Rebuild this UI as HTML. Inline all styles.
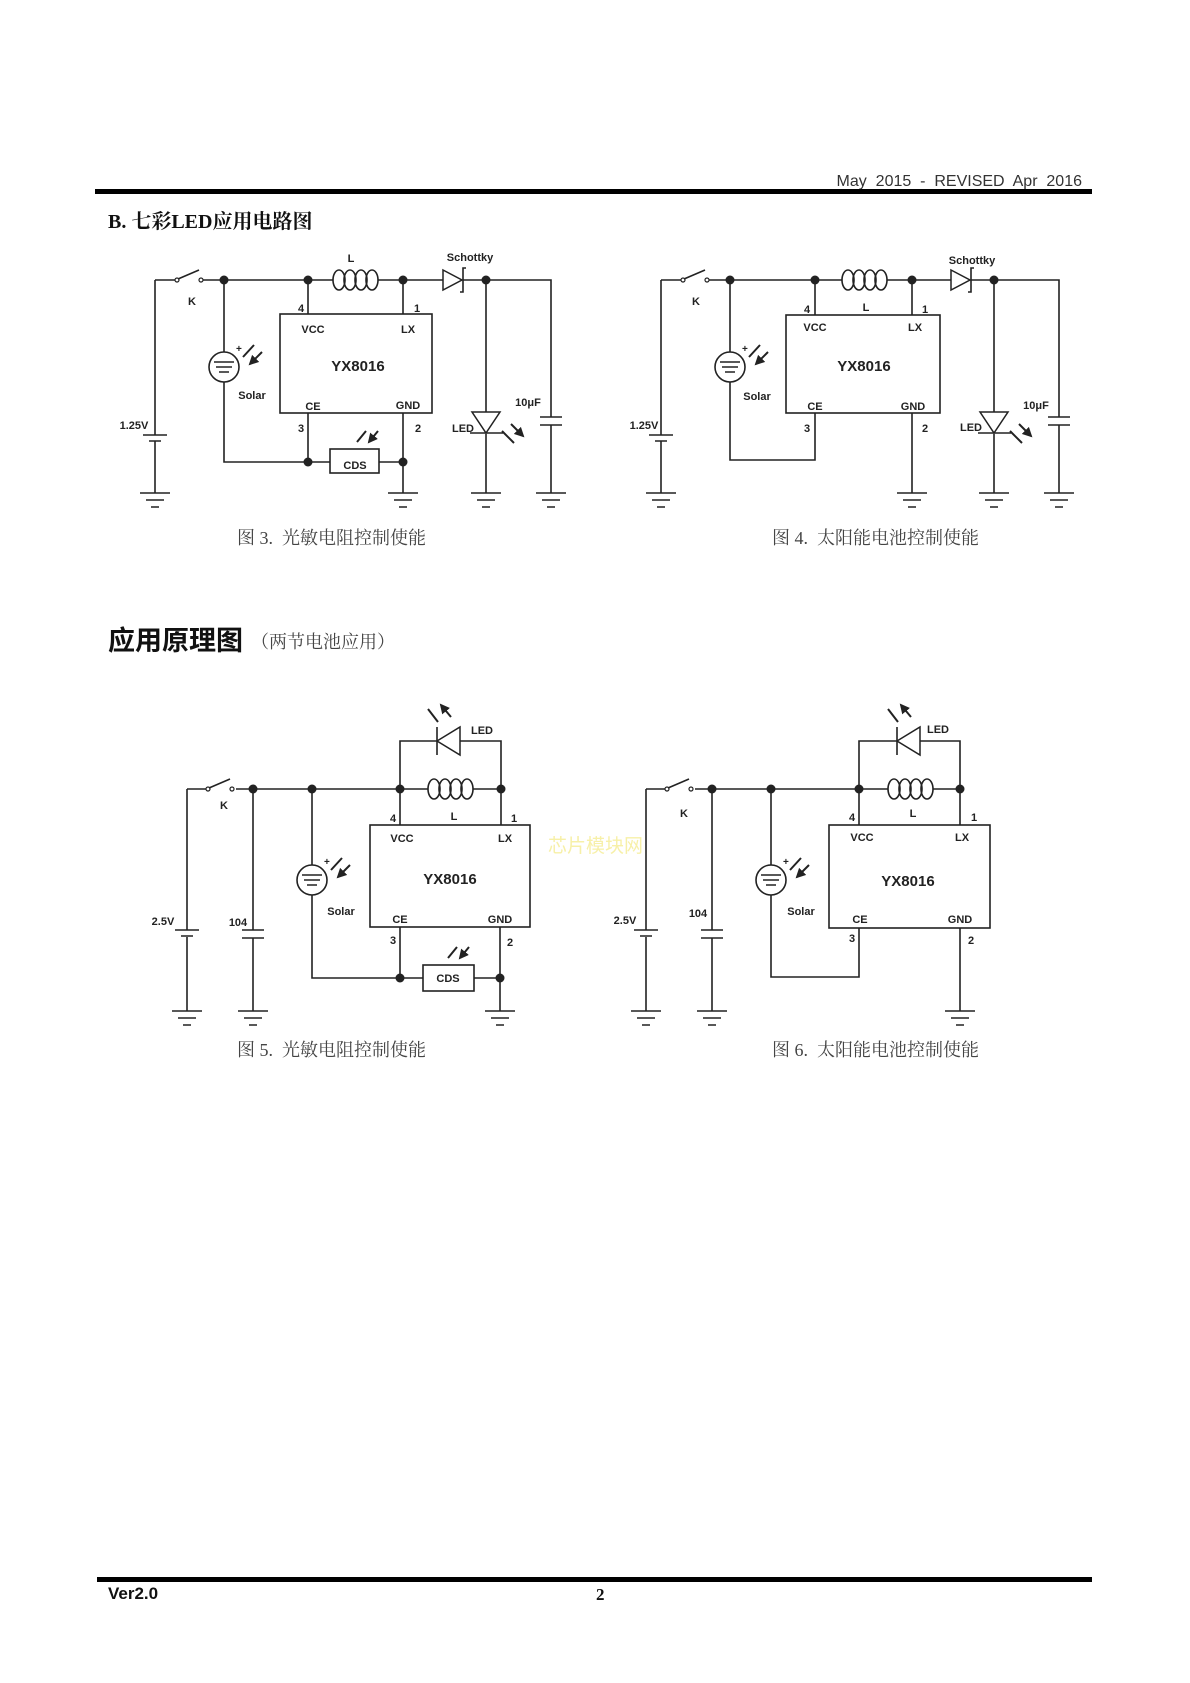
<!DOCTYPE html>
<html><head><meta charset="utf-8"><style>
html,body{margin:0;padding:0;background:#fff}
svg{display:block}
.w{stroke:#222;stroke-width:1.6;fill:none}
.a{stroke:#222;stroke-width:2;fill:none}
.b{font-family:"Liberation Sans",sans-serif;font-weight:bold;font-size:11px;fill:#222}
.ic{font-family:"Liberation Sans",sans-serif;font-weight:bold;font-size:15px;fill:#222}
.cap{font-family:"Liberation Serif","Noto Serif CJK SC",serif;font-size:18px;fill:#444}
</style></head><body>
<svg width="1190" height="1683" viewBox="0 0 1190 1683" xmlns="http://www.w3.org/2000/svg">
<defs>
<marker id="ah" viewBox="0 0 10 10" refX="8" refY="5" markerWidth="5" markerHeight="5" orient="auto"><path d="M0,0 L10,5 L0,10 z" fill="#222"/></marker>
<g id="gnd"><path class="w" d="M-15,0 H15 M-9,7 H9 M-4,14 H4"/></g>
<g id="coil"><ellipse class="w" cx="6" cy="0" rx="6" ry="10"/><ellipse class="w" cx="17" cy="0" rx="6" ry="10"/><ellipse class="w" cx="28" cy="0" rx="6" ry="10"/><ellipse class="w" cx="39" cy="0" rx="6" ry="10"/></g>
<g id="sw"><circle cx="0" cy="0" r="2" fill="#fff" stroke="#222" stroke-width="1.2"/><circle cx="24" cy="0" r="2" fill="#fff" stroke="#222" stroke-width="1.2"/><path class="w" d="M1,-1 L22,-10"/></g>
<g id="solar"><circle cx="0" cy="0" r="15" fill="#fff" stroke="#222" stroke-width="1.6"/><path class="w" d="M-10,-5 H10 M-8,0 H8 M-5,5 H5"/>
<text x="12" y="-15" class="b" style="font-size:10px">+</text>
<path class="a" marker-end="url(#ah)" d="M30,-22 L19,-10 M38,-15 L26,-3"/></g>
<g id="bat"><path class="w" d="M-12,0 H12 M-6,6 H6" stroke-width="2"/></g>
<g id="capc"><path class="w" d="M-11,0 H11 M-11,8 H11" stroke-width="2"/></g>
</defs>

<!-- header -->
<text x="1082" y="186" text-anchor="end" font-family="Liberation Sans,sans-serif" font-size="16" fill="#333" xml:space="preserve">May  2015  -  REVISED  Apr  2016</text>
<rect x="95" y="189" width="997" height="5" fill="#000"/>
<text x="108" y="228" font-family="Liberation Serif,'Noto Serif CJK SC',serif" font-weight="bold" font-size="20" fill="#111">B. 七彩LED应用电路图</text>

<!-- Fig 3 -->
<g>
<path class="w" d="M155,280 H175 M202,280 H333 M378,280 H443 M463,280 H551 V417 M551,425 V493"/>
<use href="#sw" x="177" y="280"/>
<use href="#coil" x="333" y="280"/>
<path d="M443,270 L462,280 L443,290 Z" fill="#fff" stroke="#222" stroke-width="1.5"/>
<path class="w" d="M466,268 L463,268 V292 L460,292"/>
<path class="w" d="M155,280 V435 M155,441 V493"/>
<use href="#bat" x="155" y="435"/>
<path class="w" d="M224,280 V462 H330 M379,462 H403"/>
<use href="#solar" x="224" y="367"/>
<rect x="280" y="314" width="152" height="99" class="w"/>
<path class="w" d="M308,280 V314 M403,280 V314 M308,413 V462 M403,413 V493"/>
<rect x="330" y="449" width="49" height="24" class="w"/>
<path class="a" marker-end="url(#ah)" d="M366,431 L357,442 M378,431 L369,442"/>
<path class="w" d="M486,280 V412 M486,434 V493"/>
<path d="M472,412 H500 L486,433 Z" fill="#fff" stroke="#222" stroke-width="1.5"/>
<path class="w" d="M470,433 H503"/>
<path class="a" marker-end="url(#ah)" d="M502,431 L514,443 M511,424 L523,436"/>
<use href="#capc" x="551" y="417"/>
<g fill="#222"><circle cx="224" cy="280" r="4.5"/><circle cx="308" cy="280" r="4.5"/><circle cx="403" cy="280" r="4.5"/><circle cx="486" cy="280" r="4.5"/><circle cx="308" cy="462" r="4.5"/><circle cx="403" cy="462" r="4.5"/></g>
<use href="#gnd" x="155" y="493"/><use href="#gnd" x="403" y="493"/><use href="#gnd" x="486" y="493"/><use href="#gnd" x="551" y="493"/>
<text class="b" x="351" y="262" text-anchor="middle">L</text>
<text class="b" x="470" y="261" text-anchor="middle">Schottky</text>
<text class="b" x="192" y="305" text-anchor="middle">K</text>
<text class="b" x="301" y="312" text-anchor="middle">4</text>
<text class="b" x="417" y="312" text-anchor="middle">1</text>
<text class="b" x="313" y="333" text-anchor="middle">VCC</text>
<text class="b" x="408" y="333" text-anchor="middle">LX</text>
<text class="ic" x="358" y="371" text-anchor="middle">YX8016</text>
<text class="b" x="313" y="410" text-anchor="middle">CE</text>
<text class="b" x="408" y="409" text-anchor="middle">GND</text>
<text class="b" x="301" y="432" text-anchor="middle">3</text>
<text class="b" x="418" y="432" text-anchor="middle">2</text>
<text class="b" x="252" y="399" text-anchor="middle">Solar</text>
<text class="b" x="134" y="429" text-anchor="middle">1.25V</text>
<text class="b" x="463" y="432" text-anchor="middle">LED</text>
<text class="b" x="528" y="406" text-anchor="middle">10μF</text>
<text class="b" x="355" y="469" text-anchor="middle">CDS</text>
<text class="cap" x="237" y="544" xml:space="preserve">图 3.  光敏电阻控制使能</text>
</g>

<!-- Fig 4 -->
<g transform="translate(506,0)">
<path class="w" d="M155,280 H175 M202,280 H336 M381,280 H445 M465,280 H553 V417 M553,425 V493"/>
<use href="#sw" x="177" y="280"/>
<use href="#coil" x="336" y="280"/>
<path d="M445,270 L464,280 L445,290 Z" fill="#fff" stroke="#222" stroke-width="1.5"/>
<path class="w" d="M468,268 L465,268 V292 L462,292"/>
<path class="w" d="M155,280 V435 M155,441 V493"/>
<use href="#bat" x="155" y="435"/>
<path class="w" d="M224,280 V460 H309 V413"/>
<use href="#solar" x="224" y="367"/>
<rect x="280" y="315" width="154" height="98" class="w"/>
<path class="w" d="M309,280 V315 M406,280 V315 M406,413 V493"/>
<path class="w" d="M488,280 V412 M488,434 V493"/>
<path d="M474,412 H502 L488,433 Z" fill="#fff" stroke="#222" stroke-width="1.5"/>
<path class="w" d="M472,433 H505"/>
<path class="a" marker-end="url(#ah)" d="M504,431 L516,443 M513,424 L525,436"/>
<use href="#capc" x="553" y="417"/>
<g fill="#222"><circle cx="224" cy="280" r="4.5"/><circle cx="309" cy="280" r="4.5"/><circle cx="406" cy="280" r="4.5"/><circle cx="488" cy="280" r="4.5"/></g>
<use href="#gnd" x="155" y="493"/><use href="#gnd" x="406" y="493"/><use href="#gnd" x="488" y="493"/><use href="#gnd" x="553" y="493"/>
<text class="b" x="360" y="311" text-anchor="middle">L</text>
<text class="b" x="466" y="264" text-anchor="middle">Schottky</text>
<text class="b" x="190" y="305" text-anchor="middle">K</text>
<text class="b" x="301" y="313" text-anchor="middle">4</text>
<text class="b" x="419" y="313" text-anchor="middle">1</text>
<text class="b" x="309" y="331" text-anchor="middle">VCC</text>
<text class="b" x="409" y="331" text-anchor="middle">LX</text>
<text class="ic" x="358" y="371" text-anchor="middle">YX8016</text>
<text class="b" x="309" y="410" text-anchor="middle">CE</text>
<text class="b" x="407" y="410" text-anchor="middle">GND</text>
<text class="b" x="301" y="432" text-anchor="middle">3</text>
<text class="b" x="419" y="432" text-anchor="middle">2</text>
<text class="b" x="251" y="400" text-anchor="middle">Solar</text>
<text class="b" x="138" y="429" text-anchor="middle">1.25V</text>
<text class="b" x="465" y="431" text-anchor="middle">LED</text>
<text class="b" x="530" y="409" text-anchor="middle">10μF</text>
<text class="cap" x="266" y="544" xml:space="preserve">图 4.  太阳能电池控制使能</text>
</g>

<!-- section 2 title -->
<text x="108" y="650" font-family="Liberation Sans,'Noto Sans CJK SC',sans-serif" font-weight="bold" font-size="27" fill="#111">应用原理图</text>
<text x="251" y="648" font-family="Liberation Serif,'Noto Serif CJK SC',serif" font-size="18" fill="#444">（两节电池应用）</text>

<!-- Fig 5 -->
<g>
<path class="w" d="M187,789 H206 M236,789 H428 M473,789 H501"/>
<use href="#sw" x="208" y="789"/>
<use href="#coil" x="428" y="789"/>
<path class="w" d="M187,789 V930 M187,937 V1011"/>
<use href="#bat" x="187" y="930"/>
<path class="w" d="M253,789 V930 M253,938 V1011"/>
<use href="#capc" x="253" y="930"/>
<path class="w" d="M312,789 V978 H423 M474,978 H500"/>
<use href="#solar" x="312" y="880"/>
<path class="w" d="M400,825 V741 H437 M460,741 H501 V825"/>
<path d="M437,741 L460,727 V755 Z" fill="#fff" stroke="#222" stroke-width="1.5"/>
<path class="w" d="M437,727 V755"/>
<path class="a" marker-end="url(#ah)" d="M438,722 L428,709 M451,717 L441,705"/>
<rect x="370" y="825" width="160" height="102" class="w"/>
<path class="w" d="M400,927 V978 M500,927 V1011"/>
<rect x="423" y="965" width="51" height="26" class="w"/>
<path class="a" d="M457,947 L448,958 M469,947 L460,958" marker-end="url(#ah)"/>
<g fill="#222"><circle cx="253" cy="789" r="4.5"/><circle cx="312" cy="789" r="4.5"/><circle cx="400" cy="789" r="4.5"/><circle cx="501" cy="789" r="4.5"/><circle cx="400" cy="978" r="4.5"/><circle cx="500" cy="978" r="4.5"/></g>
<use href="#gnd" x="187" y="1011"/><use href="#gnd" x="253" y="1011"/><use href="#gnd" x="500" y="1011"/>
<text class="b" x="482" y="734" text-anchor="middle">LED</text>
<text class="b" x="224" y="809" text-anchor="middle">K</text>
<text class="b" x="454" y="820" text-anchor="middle">L</text>
<text class="b" x="393" y="822" text-anchor="middle">4</text>
<text class="b" x="514" y="822" text-anchor="middle">1</text>
<text class="b" x="402" y="842" text-anchor="middle">VCC</text>
<text class="b" x="505" y="842" text-anchor="middle">LX</text>
<text class="ic" x="450" y="884" text-anchor="middle">YX8016</text>
<text class="b" x="400" y="923" text-anchor="middle">CE</text>
<text class="b" x="500" y="923" text-anchor="middle">GND</text>
<text class="b" x="393" y="944" text-anchor="middle">3</text>
<text class="b" x="510" y="946" text-anchor="middle">2</text>
<text class="b" x="341" y="915" text-anchor="middle">Solar</text>
<text class="b" x="163" y="925" text-anchor="middle">2.5V</text>
<text class="b" x="238" y="926" text-anchor="middle">104</text>
<text class="b" x="448" y="982" text-anchor="middle">CDS</text>
<text class="cap" x="237" y="1056" xml:space="preserve">图 5.  光敏电阻控制使能</text>
</g>

<text x="548" y="852" font-family="Liberation Sans,'Noto Sans CJK SC',sans-serif" font-size="19" fill="#f7f0a8">芯片模块网</text>

<!-- Fig 6 -->
<g transform="translate(459,0)">
<path class="w" d="M187,789 H206 M236,789 H429 M474,789 H501"/>
<use href="#sw" x="208" y="789"/>
<use href="#coil" x="429" y="789"/>
<path class="w" d="M187,789 V930 M187,937 V1011"/>
<use href="#bat" x="187" y="930"/>
<path class="w" d="M253,789 V930 M253,938 V1011"/>
<use href="#capc" x="253" y="930"/>
<path class="w" d="M312,789 V977 H400 V928"/>
<use href="#solar" x="312" y="880"/>
<path class="w" d="M400,825 V741 H438 M461,741 H501 V825"/>
<path d="M438,741 L461,727 V755 Z" fill="#fff" stroke="#222" stroke-width="1.5"/>
<path class="w" d="M438,727 V755"/>
<path class="a" marker-end="url(#ah)" d="M439,722 L429,709 M452,717 L442,705"/>
<rect x="370" y="825" width="161" height="103" class="w"/>
<path class="w" d="M501,928 V1011"/>
<g fill="#222"><circle cx="253" cy="789" r="4.5"/><circle cx="312" cy="789" r="4.5"/><circle cx="400" cy="789" r="4.5"/><circle cx="501" cy="789" r="4.5"/></g>
<use href="#gnd" x="187" y="1011"/><use href="#gnd" x="253" y="1011"/><use href="#gnd" x="501" y="1011"/>
<text class="b" x="479" y="733" text-anchor="middle">LED</text>
<text class="b" x="225" y="817" text-anchor="middle">K</text>
<text class="b" x="454" y="817" text-anchor="middle">L</text>
<text class="b" x="393" y="821" text-anchor="middle">4</text>
<text class="b" x="515" y="821" text-anchor="middle">1</text>
<text class="b" x="403" y="841" text-anchor="middle">VCC</text>
<text class="b" x="503" y="841" text-anchor="middle">LX</text>
<text class="ic" x="449" y="886" text-anchor="middle">YX8016</text>
<text class="b" x="401" y="923" text-anchor="middle">CE</text>
<text class="b" x="501" y="923" text-anchor="middle">GND</text>
<text class="b" x="393" y="942" text-anchor="middle">3</text>
<text class="b" x="512" y="944" text-anchor="middle">2</text>
<text class="b" x="342" y="915" text-anchor="middle">Solar</text>
<text class="b" x="166" y="924" text-anchor="middle">2.5V</text>
<text class="b" x="239" y="917" text-anchor="middle">104</text>
<text class="cap" x="313" y="1056" xml:space="preserve">图 6.  太阳能电池控制使能</text>
</g>

<!-- footer -->
<rect x="97" y="1577" width="995" height="5" fill="#000"/>
<text x="108" y="1599" font-family="Liberation Sans,sans-serif" font-weight="bold" font-size="17" fill="#111">Ver2.0</text>
<text x="596" y="1600" font-family="Liberation Serif,serif" font-weight="bold" font-size="17" fill="#111">2</text>
</svg>
</body></html>
